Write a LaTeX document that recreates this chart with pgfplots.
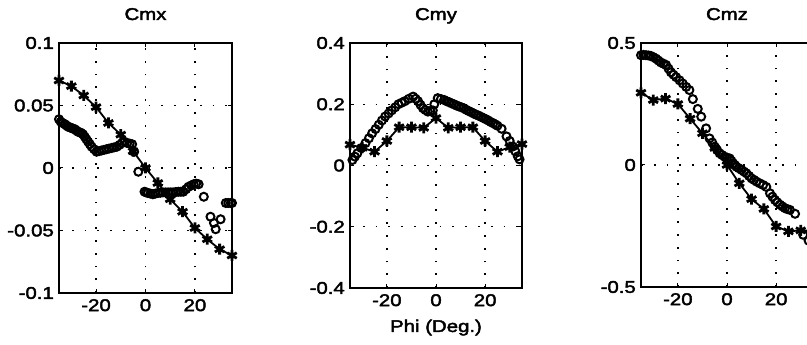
\documentclass[border=0pt]{standalone}
\usepackage{fontspec}
\setmainfont[FakeStretch=1.2,FakeBold=2.5]{Liberation Sans}
\usepackage{pgfplots}
\pgfplotsset{compat=1.18}
\usepackage{pgfplotstable}

% star series (every 5 deg)
\pgfplotstableread{
x y
-35 0.070
-30 0.0655
-25 0.058
-20 0.0487
-15 0.036
-10 0.0267
-5 0.0134
0 0.0
5 -0.012
10 -0.025
15 -0.035
20 -0.048
25 -0.057
30 -0.065
35 -0.070
}\cmxstar
\pgfplotstableread{
x y
-35 0.039
-34.3 0.037
-33.5 0.036
-32.6 0.035
-32 0.034
-31.3 0.033
-30.6 0.0325
-30 0.032
-29.3 0.0315
-28.6 0.031
-28 0.030
-27.3 0.029
-26.6 0.0285
-26 0.028
-25.3 0.027
-24.6 0.025
-23.9 0.023
-23.2 0.021
-22.5 0.019
-21.8 0.017
-20.8 0.015
-19.8 0.013
-18.8 0.0135
-17.8 0.014
-16.8 0.0145
-15.8 0.015
-14.8 0.0155
-13.7 0.016
-12.7 0.0165
-11.6 0.017
-10.5 0.0185
-9.5 0.020
-8.5 0.021
-7.4 0.020
-6.4 0.0195
-5.4 0.019
-4.6 0.013
-2.9 -0.003
-0.4 -0.019
0.3 -0.0195
1 -0.020
2 -0.0205
3 -0.021
4 -0.0205
5 -0.020
6 -0.0198
7 -0.0195
8.1 -0.0195
9.2 -0.0195
10.2 -0.0195
11.2 -0.0195
12.3 -0.0192
13.3 -0.019
14.3 -0.019
15.3 -0.019
16.4 -0.017
17.4 -0.015
18.5 -0.014
19.5 -0.013
20.5 -0.0125
21.5 -0.013
23.6 -0.023
26.3 -0.039
27.7 -0.044
28.4 -0.049
30.4 -0.041
32.5 -0.028
33.5 -0.028
34.5 -0.028
35 -0.028
}\cmxcirc
\pgfplotstableread{
x y
-35 0.068
-30 0.058
-25 0.045
-20 0.080
-15 0.125
-10 0.125
-5 0.123
0 0.155
5 0.123
10 0.125
15 0.125
20 0.080
25 0.045
30 0.060
35 0.070
}\cmystar
\pgfplotstableread{
x y
-34 0.018
-33 0.029
-32 0.040
-30.4 0.057
-28.7 0.073
-27.3 0.089
-26 0.105
-24.6 0.119
-23.3 0.133
-22 0.147
-20.7 0.160
-19.3 0.170
-18 0.180
-16.6 0.190
-15.3 0.200
-14 0.205
-12.7 0.210
-11 0.218
-9.3 0.225
-8.3 0.218
-7.3 0.210
-6.3 0.198
-5.3 0.187
-4.3 0.181
-3.3 0.176
-2.3 0.178
-1.3 0.180
-0.7 0.200
0.7 0.220
2 0.217
3.3 0.214
4.3 0.210
5.3 0.207
6.3 0.203
7.3 0.200
8.3 0.196
9.3 0.193
10.3 0.190
11.3 0.187
12.3 0.182
13.3 0.178
14.3 0.174
15.3 0.170
16.3 0.166
17.3 0.163
18.3 0.159
19.3 0.155
20.3 0.151
21.3 0.147
22.3 0.142
23.3 0.138
24.2 0.134
25 0.130
26.7 0.120
28.7 0.095
30 0.080
31.3 0.062
32.3 0.046
33.3 0.030
34 0.020
}\cmycirc
\pgfplotstableread{
x y
-35 0.296
-30 0.266
-25 0.272
-20 0.250
-15 0.190
-10 0.130
-5 0.070
0 0.0
5 -0.075
10 -0.140
15 -0.180
20 -0.252
25 -0.272
30 -0.268
35 -0.270
}\cmzstar
\pgfplotstableread{
x y
-35 0.450
-34 0.451
-33 0.450
-32 0.449
-31 0.447
-30 0.442
-28.9 0.436
-27.9 0.428
-26.9 0.420
-25.8 0.415
-24.8 0.410
-23.8 0.395
-22.8 0.380
-21.8 0.370
-20.7 0.360
-19.3 0.347
-18 0.334
-16.6 0.320
-15.3 0.307
-13.9 0.270
-11.9 0.230
-10.5 0.198
-8.5 0.150
-7.1 0.109
-6 0.092
-5 0.075
-4 0.061
-3 0.048
-2 0.041
-1 0.034
0 0.030
1.1 0.027
1.8 0.017
2.5 0.007
3.2 0.000
3.8 -0.007
4.8 -0.013
5.9 -0.020
6.9 -0.027
7.9 -0.034
9 -0.045
10 -0.055
11 -0.061
12 -0.068
13.3 -0.075
14.7 -0.082
16 -0.090
17.5 -0.116
18.5 -0.130
19.5 -0.143
20.5 -0.153
21.6 -0.163
22.6 -0.170
23.6 -0.177
24.6 -0.181
25.6 -0.184
27.7 -0.200
31 -0.286
33.2 -0.310
35 -0.330
}\cmzcirc

\pgfplotsset{
  mlab/.style={
    scale only axis,
    anchor=south west,
    font=\fontsize{17}{20}\selectfont,
    xmin=-35, xmax=35,
    xtick={-20,0,20},
    xticklabels={-20,0,20},
    tick align=inside,
    major tick length=4pt,
    tick style={black, line width=1pt},
    axis line style={line width=1.8pt},
    grid=major,
    major grid style={black, line width=1.3pt, dash pattern=on 1.8pt off 11pt},
    xticklabel style={inner sep=2pt, yshift=-4pt},
    yticklabel style={inner sep=2pt, xshift=-3pt},
    title style={at={(0.5,1)}, anchor=base, inner sep=0pt, yshift=17pt},
    clip=false,
  },
  starser/.style={black, line width=1.8pt, mark=asterisk, mark size=5.5pt,
    mark options={line width=2.8pt, solid}},
  circser/.style={black, only marks, mark=o, mark size=4pt,
    mark options={line width=2pt}},
}

\begin{document}
\begin{tikzpicture}
\begin{scope}
\clip (0pt,0pt) rectangle (807pt,345pt);
% Cmx
\begin{axis}[mlab, at={(59pt,52pt)}, width=173pt, height=250pt,
  title={Cmx}, ymin=-0.1, ymax=0.1,
  ytick={-0.1,-0.05,0,0.05,0.1}, yticklabels={-0.1,-0.05,0,0.05,0.1}]
\addplot[circser] table {\cmxcirc};
\addplot[starser] table {\cmxstar};
\end{axis}
% Cmy
\begin{axis}[mlab, at={(350pt,57pt)}, width=172pt, height=245pt,
  title={Cmy}, ymin=-0.4, ymax=0.4,
  ytick={-0.4,-0.2,0,0.2,0.4}, yticklabels={-0.4,-0.2,0,0.2,0.4},
  xlabel={Phi (Deg.)},
  xlabel style={at={(axis description cs:0.5,0)}, anchor=base, inner sep=0pt, yshift=-44pt}]
\addplot[circser] table {\cmycirc};
\addplot[starser] table {\cmystar};
\end{axis}
% Cmz
\begin{axis}[mlab, at={(641pt,58pt)}, width=172pt, height=244pt,
  title={Cmz}, ymin=-0.5, ymax=0.5,
  ytick={-0.5,0,0.5}, yticklabels={-0.5,0,0.5}]
\addplot[circser] table {\cmzcirc};
\addplot[starser] table {\cmzstar};
\end{axis}
\end{scope}
\pgfresetboundingbox
\path[use as bounding box] (0pt,0pt) rectangle (807pt,345pt);
\end{tikzpicture}
\end{document}
